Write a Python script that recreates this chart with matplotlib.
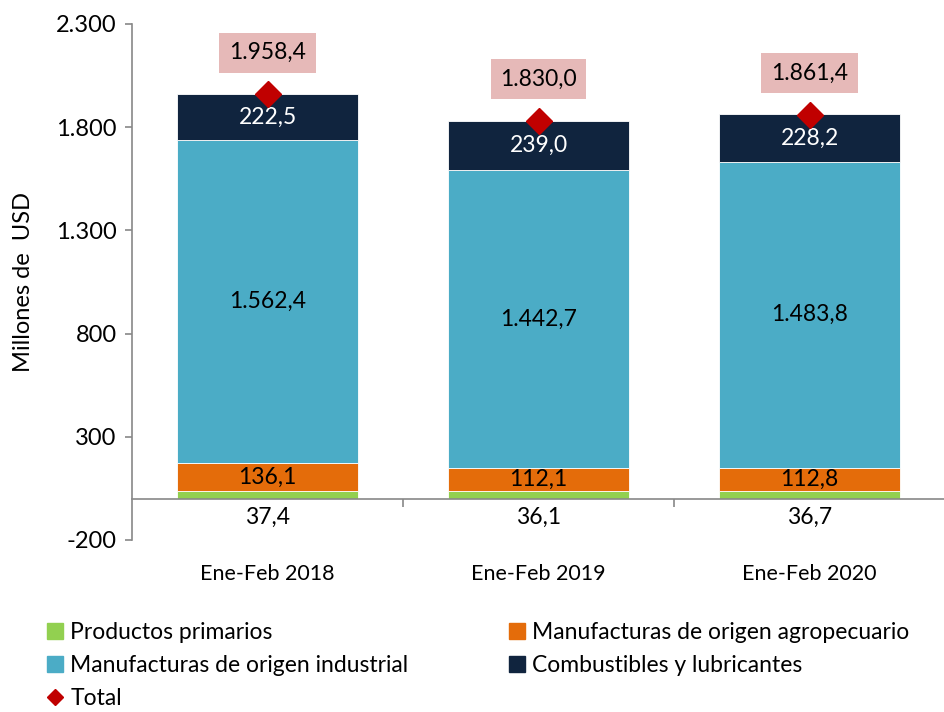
import matplotlib.pyplot as plt
from matplotlib.lines import Line2D
from matplotlib.ticker import FuncFormatter
import numpy as np

plt.rcParams['font.family'] = ['Lato', 'DejaVu Sans']

periodos = ['Ene-Feb 2018', 'Ene-Feb 2019', 'Ene-Feb 2020']
primarios = [37.4, 36.1, 36.7]
moa = [136.1, 112.1, 112.8]
moi = [1562.4, 1442.7, 1483.8]
combustibles = [222.5, 239.0, 228.2]
total = [1958.4, 1830.0, 1861.4]

series = [
    ('Productos primarios', primarios, '#92D050', 'black'),
    ('Manufacturas de origen agropecuario', moa, '#E46C0A', 'black'),
    ('Manufacturas de origen industrial', moi, '#4BACC6', 'black'),
    ('Combustibles y lubricantes', combustibles, '#10243E', 'white'),
]


def fmt_num(v, dec=1):
    s = f"{v:,.{dec}f}"
    return s.replace(',', 'X').replace('.', ',').replace('X', '.')


fig = plt.figure(figsize=(9.45, 7.12), dpi=100)
ax = fig.add_axes([0.1397, 0.2416, 0.8603, 0.7247])

x = np.arange(len(periodos))
ancho = 0.67
base = np.zeros(len(periodos))
for i, (nombre, vals, color, tcolor) in enumerate(series):
    vals = np.array(vals)
    ax.bar(x, vals, ancho, bottom=base, color=color, edgecolor='white', linewidth=0.6, zorder=2)
    for j in range(len(x)):
        if i == 0:
            ax.annotate(fmt_num(vals[j]), (x[j], 0), xytext=(0, -6), textcoords='offset points',
                        ha='center', va='top', fontsize=16.5, color='black')
        else:
            ax.text(x[j], base[j] + vals[j] / 2, fmt_num(vals[j]), ha='center', va='center',
                    fontsize=16.5, color=tcolor, zorder=4)
    base = base + vals

ax.plot(x, total, linestyle='none', marker='D', markersize=13, color='#C00000', zorder=5)
for j in range(len(x)):
    ax.annotate(fmt_num(total[j]), (x[j], total[j]), xytext=(0, 30), textcoords='offset points',
                ha='center', va='center', fontsize=16.5, color='black',
                bbox=dict(boxstyle='square,pad=0.42', facecolor='#E6B9B8', edgecolor='none'))

ax.set_ylim(-200, 2300)
ax.set_xlim(-0.5, 2.5)
ax.set_yticks([-200, 300, 800, 1300, 1800, 2300])
ax.yaxis.set_major_formatter(FuncFormatter(lambda v, p: fmt_num(v, 0)))
ax.tick_params(axis='y', labelsize=17, length=5, color='#888888', width=1.2, pad=6)
ax.set_ylabel('Millones de  USD', fontsize=17, labelpad=16)

for s in ['top', 'right']:
    ax.spines[s].set_visible(False)
ax.spines['left'].set_color('#888888')
ax.spines['left'].set_linewidth(1.2)
ax.spines['bottom'].set_position(('data', 0))
ax.spines['bottom'].set_color('#888888')
ax.spines['bottom'].set_linewidth(1.2)

ax.set_xticks([0.5, 1.5])
ax.set_xticklabels([])
ax.tick_params(axis='x', length=6, color='#888888', width=1.2)
for j, p in enumerate(periodos):
    ax.annotate(p, (x[j], -200), xytext=(0, -17), textcoords='offset points',
                ha='center', va='top', fontsize=15.5)

handles = [
    Line2D([], [], linestyle='none', marker='s', markersize=11, color=series[0][2]),
    Line2D([], [], linestyle='none', marker='s', markersize=11, color=series[2][2]),
    Line2D([], [], linestyle='none', marker='D', markersize=8, color='#C00000'),
    Line2D([], [], linestyle='none', marker='s', markersize=11, color=series[1][2]),
    Line2D([], [], linestyle='none', marker='s', markersize=11, color=series[3][2]),
]
labels = [series[0][0], series[2][0], 'Total', series[1][0], series[3][0]]
fig.legend(handles, labels, loc='upper left', bbox_to_anchor=(0.05, 0.126), ncol=2,
           frameon=False, fontsize=16.5, handlelength=0.7, handletextpad=0.3,
           labelspacing=0.52, columnspacing=4.4, borderaxespad=0, borderpad=0)

fig.savefig('out.png', dpi=100)
